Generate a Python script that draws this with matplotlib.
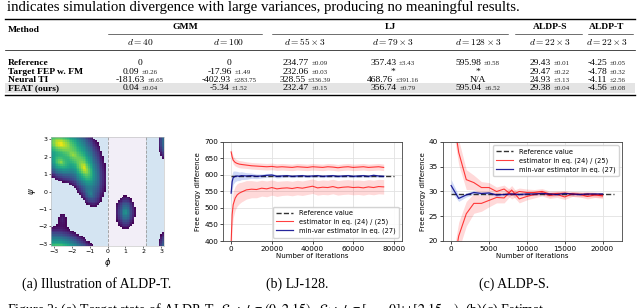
import numpy as np
import matplotlib
matplotlib.use('Agg')
import matplotlib.pyplot as plt
from matplotlib.colors import LogNorm
from matplotlib.patches import Rectangle

# ---------------- table data ----------------
methods = ['Reference', 'Target FEP w. FM', 'Neural TI', 'FEAT (ours)']
groups = ['GMM', 'LJ', 'ALDP-S', 'ALDP-T']
dims = [r'$d = 40$', r'$d = 100$', r'$d = 55 \times 3$', r'$d = 79 \times 3$',
        r'$d = 128 \times 3$', r'$d = 22 \times 3$', r'$d = 22 \times 3$']
ref_vals = ['0', '0', '234.77', '357.43', '595.98', '29.43', '-4.25']
ref_std = ['', '', '0.09', '3.43', '0.58', '0.01', '0.05']
fep_vals = ['0.09', '-17.96', '232.06', '*', '*', '29.47', '-4.78']
fep_std = ['0.26', '1.49', '0.03', '', '', '0.22', '0.32']
ti_vals = ['-181.63', '-402.93', '328.55', '468.76', 'N/A', '24.93', '-4.11']
ti_std = ['6.65', '283.75', '336.39', '391.16', '', '3.13', '2.56']
feat_vals = ['0.04', '-5.34', '232.47', '356.74', '595.04', '29.38', '-4.56']
feat_std = ['0.04', '1.52', '0.15', '0.79', '6.52', '0.04', '0.08']

# ---------------- (a) ALDP-T density: modes ----------------
# phi centre, psi centre, scale phi, scale psi, correlation, weight
mode_phi = [-2.6, -2.6, -1.9, -1.3, -0.95, 1.0, -2.5, 3.45]
mode_psi = [2.75, 1.7, 2.1, 1.35, -0.1, -1.2, -1.6, 2.9]
mode_sphi = [0.3, 0.22, 0.3, 0.17, 0.17, 0.15, 0.3, 0.12]
mode_spsi = [0.2, 0.2, 0.3, 0.27, 0.25, 0.26, 0.5, 0.24]
mode_rho = [-0.3, -0.3, -0.5, -0.5, -0.3, 0.0, 0.0, 0.0]
mode_w = [1.0, 0.3, 0.3, 0.8, 0.02, 0.04, 0.002, 0.2]
state_edges = [-np.pi, 0.0, 2.15, np.pi]

# ---------------- (b) LJ-128 ----------------
b_x = [0, 500, 1000, 2000, 3000, 4000, 5000, 7500, 10000, 12500, 15000, 17500,
       20000, 22500, 25000, 27500, 30000, 32500, 35000, 37500, 40000, 42500,
       45000, 47500, 50000, 52500, 55000, 57500, 60000, 62500, 65000, 67500,
       70000, 72500, 75000]
b_up = [670, 655, 645, 638, 635, 633, 632, 630, 628, 627, 626, 625, 626, 624,
        625, 624, 623, 625, 624, 623, 625, 624, 623, 625, 624, 622, 624, 625,
        623, 624, 625, 623, 624, 625, 623]
b_up_err = [12, 12, 12, 11, 11, 11, 11, 10, 10, 10, 10, 10, 10, 10, 10, 10, 10,
            10, 10, 10, 10, 10, 10, 10, 10, 10, 10, 10, 10, 10, 10, 10, 10, 10, 10]
b_lo = [395, 480, 510, 530, 540, 545, 548, 555, 557, 556, 560, 558, 562, 558,
        560, 561, 559, 562, 560, 563, 566, 561, 563, 562, 565, 561, 563, 564,
        562, 563, 561, 564, 562, 565, 564]
b_lo_err = [45, 42, 40, 36, 34, 32, 30, 28, 26, 25, 24, 24, 23, 23, 22, 22, 22,
            22, 22, 22, 22, 22, 22, 22, 22, 22, 22, 22, 22, 22, 22, 22, 22, 22, 22]
b_mv = [545, 580, 592, 596, 597, 596, 598, 597, 598, 596, 597, 599, 600, 596,
        597, 598, 596, 597, 598, 596, 597, 598, 596, 597, 598, 596, 597, 598,
        596, 597, 598, 596, 599, 597, 596]
b_mv_err = [30, 25, 20, 16, 14, 13, 12, 10, 8, 7, 6, 6, 5, 5, 5, 4, 4, 4, 4, 4,
            4, 4, 4, 4, 4, 4, 4, 4, 4, 4, 4, 4, 4, 4, 4]
b_ref = 595.98
b_ref_x = [0, 80000]

# ---------------- (c) ALDP-S ----------------
c_x = [0, 1000, 2000, 3000, 4000, 5000, 6000, 7000, 8000, 9000, 10000, 11000,
       12000, 13000, 14000, 15000, 16000, 17000, 18000, 19000, 20000]
c_up = [48, 37.9, 32.4, 31.8, 30.8, 30.8, 30.0, 30.5, 29.3, 30.0, 29.8, 29.8,
        30.0, 29.5, 29.6, 29.7, 29.5, 29.4, 29.5, 29.4, 29.3]
c_up_err = [3, 2.5, 2.0, 1.5, 1.2, 1.0, 0.9, 0.8, 0.8, 0.7, 0.7, 0.6, 0.6, 0.6,
            0.5, 0.5, 0.5, 0.5, 0.5, 0.5, 0.5]
c_lo = [12, 21, 25.5, 27.6, 27.6, 28.2, 28.8, 28.7, 30.3, 28.5, 29.0, 29.4,
        29.7, 29.2, 29.4, 28.9, 29.5, 29.4, 29.0, 29.3, 29.1]
c_lo_err = [3, 2.8, 2.5, 2.0, 1.6, 1.3, 1.1, 1.0, 0.9, 0.8, 0.7, 0.7, 0.6, 0.6,
            0.6, 0.5, 0.5, 0.5, 0.5, 0.5, 0.5]
c_mv = [31.2, 28.6, 29.3, 29.8, 29.6, 29.7, 29.3, 29.4, 29.5, 29.4, 29.5, 29.5,
        29.6, 29.5, 29.4, 29.6, 29.5, 29.4, 29.5, 29.5, 29.5]
c_mv_err = [1.2, 0.6, 0.4, 0.35, 0.3, 0.3, 0.3, 0.25, 0.25, 0.25, 0.2, 0.2, 0.2,
            0.2, 0.2, 0.2, 0.2, 0.2, 0.2, 0.2, 0.2]
c_ref = 29.43
c_ref_x = [0, 21500]

# ---------------------------------------------------------------
W, H = 640, 308
fig = plt.figure(figsize=(6.4, 3.08), dpi=100)
rend = fig.canvas.get_renderer()
serif = 'Liberation Serif'


def fx(x):
    return x / W


def fy(y):
    return 1 - y / H


def hline(x0, x1, y, lw):
    fig.add_artist(plt.Line2D([fx(x0), fx(x1)], [fy(y), fy(y)], color='black', lw=lw))


# caption text above the table
fig.text(fx(7), fy(11.5), 'indicates simulation divergence with large variances, producing no meaningful results.',
         family=serif, fontsize=10.6, va='baseline', ha='left')

# table geometry
tab_l, tab_r = 5, 635
col_x = [140, 229, 305, 393, 478, 550, 607]
grp_x = [185, 390, 550, 607]
grp_rule = [(108, 262), (272, 508), (515, 582), (588, 633)]
row_y = [65, 73.5, 82, 90.5]
fs_main, fs_std = 6.8, 5.0

fig.add_artist(Rectangle((fx(tab_l), fy(93)), fx(tab_r) - fx(tab_l), (93 - 83.5) / H,
                         transform=fig.transFigure, color='#e4e4e4', lw=0))
hline(tab_l, tab_r, 19, 1.0)
hline(tab_l, tab_r, 50, 0.5)
hline(tab_l, tab_r, 95, 1.0)
for a, b in grp_rule:
    hline(a, b, 34, 0.4)

fig.text(fx(8), fy(31.5), 'Method', family=serif, fontsize=fs_main, weight='bold', va='baseline')
for g, x in zip(groups, grp_x):
    fig.text(fx(x), fy(29), g, family=serif, fontsize=fs_main, weight='bold', va='baseline', ha='center')
for d, x in zip(dims, col_x):
    fig.text(fx(x), fy(45), d, fontsize=fs_main, math_fontfamily='cm', va='baseline', ha='center')


def cell(x, y, val, std):
    t1 = fig.text(0, fy(y), val, family=serif, fontsize=fs_main, va='baseline', ha='left')
    w1 = t1.get_window_extent(rend).width
    if not std:
        t1.set_x(fx(x - w1 / 2))
        return
    t2 = fig.text(0, fy(y), '±' + std, family=serif, fontsize=fs_std, va='baseline', ha='left',
                  color='#222222')
    w2 = t2.get_window_extent(rend).width
    gap = 2.5
    x0 = x - (w1 + gap + w2) / 2
    t1.set_x(fx(x0))
    t2.set_x(fx(x0 + w1 + gap))


table_vals = [ref_vals, fep_vals, ti_vals, feat_vals]
table_std = [ref_std, fep_std, ti_std, feat_std]
for m, y, vals, stds in zip(methods, row_y, table_vals, table_std):
    fig.text(fx(8), fy(y), m, family=serif, fontsize=fs_main, weight='bold', va='baseline')
    for x, v, s in zip(col_x, vals, stds):
        cell(x, y, v, s)

# ---------------- (a) heatmap ----------------
axa = fig.add_axes([fx(51), fy(246), 113 / W, 109 / H])
nb = 64
edges = np.linspace(-np.pi, np.pi, nb + 1)
cent = (edges[:-1] + edges[1:]) / 2
PHI, PSI = np.meshgrid(cent, cent)
dens = np.zeros_like(PHI)
for pc, qc, sp, sq, rho, w in zip(mode_phi, mode_psi, mode_sphi, mode_spsi, mode_rho, mode_w):
    u = (PHI - pc) / sp
    v = ((PSI - qc + np.pi) % (2 * np.pi) - np.pi) / sq
    q = (u * u - 2 * rho * u * v + v * v) / (1 - rho ** 2)
    dens += w * np.exp(-np.sqrt(q))
dens = np.ma.masked_less(dens, 1e-3)

state_cols = ['#d4e4f2', '#f2eef7', '#d4e4f2']
for i in range(3):
    axa.axvspan(state_edges[i], state_edges[i + 1], color=state_cols[i], lw=0, zorder=0)
axa.pcolormesh(edges, edges, dens, cmap='viridis', norm=LogNorm(1e-3, 1), zorder=1)
for e in state_edges[1:3]:
    axa.axvline(e, color='#999999', ls='--', lw=0.6, zorder=2)
axa.set_xlim(-np.pi, np.pi)
axa.set_ylim(-np.pi, np.pi)
axa.set_xticks([-3, -2, -1, 0, 1, 2, 3])
axa.set_yticks([-3, -2, -1, 0, 1, 2, 3])
axa.tick_params(labelsize=4.5, length=1.5, width=0.4, pad=1)
axa.set_xlabel(r'$\phi$', fontsize=6, labelpad=1)
axa.set_ylabel(r'$\psi$', fontsize=6, labelpad=0)
for s in axa.spines.values():
    s.set_color('#bbbbbb')
    s.set_linewidth(0.4)


def style(ax):
    ax.grid(color='#e2e2e2', lw=0.6)
    ax.set_axisbelow(True)
    ax.tick_params(labelsize=5.2, length=2, width=0.5, pad=1.5)
    for s in ax.spines.values():
        s.set_color('#444444')
        s.set_linewidth(0.6)
    ax.set_xlabel('Number of iterations', fontsize=5, labelpad=1)
    ax.set_ylabel('Free energy difference', fontsize=5, labelpad=2)


def draw(ax, x, up, up_e, lo, lo_e, mv, mv_e, ref, ref_x, loc):
    x = np.array(x)
    for m, e in [(up, up_e), (lo, lo_e)]:
        m, e = np.array(m), np.array(e)
        ax.fill_between(x, m - e, m + e, color='red', alpha=0.15, lw=0)
    mv, mv_e = np.array(mv), np.array(mv_e)
    ax.fill_between(x, mv - mv_e, mv + mv_e, color='royalblue', alpha=0.25, lw=0)
    ax.plot(ref_x, [ref, ref], color='#333333', ls='--', lw=1.0, label='Reference value')
    ax.plot(x, up, color='red', alpha=0.75, lw=0.8, label='estimator in eq. (24) / (25)')
    ax.plot(x, lo, color='red', alpha=0.75, lw=0.8)
    ax.plot(x, mv, color='darkblue', alpha=0.85, lw=0.9, label='min-var estimator in eq. (27)')
    ax.legend(loc=loc, fontsize=4.8, handlelength=2.6, borderpad=0.5, labelspacing=0.4,
              framealpha=0.85)


axb = fig.add_axes([fx(223), fy(241), 179 / W, 99 / H])
draw(axb, b_x, b_up, b_up_err, b_lo, b_lo_err, b_mv, b_mv_err, b_ref, b_ref_x, 'lower right')
axb.set_ylim(400, 700)
axb.set_xticks([0, 20000, 40000, 60000, 80000])
style(axb)

axc = fig.add_axes([fx(443), fy(241), 179 / W, 99 / H])
draw(axc, c_x, c_up, c_up_err, c_lo, c_lo_err, c_mv, c_mv_err, c_ref, c_ref_x, 'upper right')
axc.set_ylim(20, 40)
axc.set_xticks([0, 5000, 10000, 15000, 20000])
style(axc)

# sub-captions
fig.text(fx(97), fy(288), '(a) Illustration of ALDP-T.', family=serif, fontsize=10, ha='center', va='baseline')
fig.text(fx(297), fy(288), '(b) LJ-128.', family=serif, fontsize=10, ha='center', va='baseline')
fig.text(fx(514), fy(288), '(c) ALDP-S.', family=serif, fontsize=10, ha='center', va='baseline')
fig.text(fx(7), fy(313.5),
         r'Figure 2: (a) Target state of ALDP-T. $\mathcal{S}_0: \phi \in (0, 2.15)$, '
         r'$\mathcal{S}_1: \phi \in [-\pi, 0] \cup [2.15, \pi)$. (b)(c) Estimat',
         family=serif, fontsize=10, ha='left', va='baseline', math_fontfamily='stix')

fig.savefig('out.png', dpi=100)
